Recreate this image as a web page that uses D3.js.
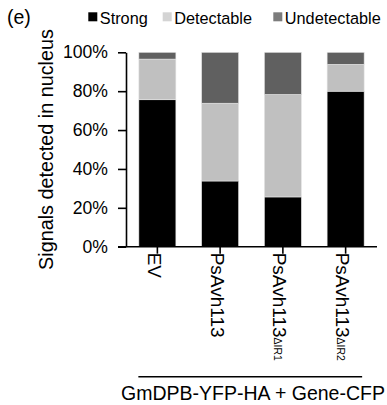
<!DOCTYPE html>
<html>
<head>
<meta charset="utf-8">
<script src="https://cdn.jsdelivr.net/npm/d3@7"></script>
<style>
  body { margin: 0; background: #fff; }
  text { font-family: "Liberation Sans", Arial, sans-serif; fill: #000; }
</style>
</head>
<body>
<div id="chart"></div>
<script>
// data (percent of cells)
var groups = ["EV", "PsAvh113", "PsAvh113_1", "PsAvh113_2"];
var groupNames = ["EV", "PsAvh113", "PsAvh113", "PsAvh113"];
var groupSubs = ["", "", "\u0394IR1", "\u0394IR2"];
var strong = [75.6, 33.8, 25.6, 80.0];
var detectable = [20.9, 40.0, 52.7, 13.8];
var undetectable = [3.5, 26.2, 21.7, 6.2];
var seriesNames = ["Strong", "Detectable", "Undetectable"];
var seriesColors = ["#000000", "#c0c0c0", "#606060"];
var legendColors = ["#000000", "#d4d4d4", "#7c7c7c"];
var yTicks = [0, 20, 40, 60, 80, 100];

var svgWidth = 387;
var svgHeight = 405;

var margin = { top: 52.3, right: 10, bottom: 158.3, left: 126 };
var width = 251;
var height = svgHeight - margin.top - margin.bottom;

var svg = d3.select("#chart")
  .append("svg")
  .attr("width", svgWidth)
  .attr("height", svgHeight);

var chartGroup = svg.append("g")
  .attr("transform", `translate(${margin.left}, ${margin.top})`);

// build stacked table
var table = groups.map(function(g, i) {
  return { group: g, Strong: strong[i], Detectable: detectable[i], Undetectable: undetectable[i] };
});
var stacked = d3.stack().keys(seriesNames)(table);

var xBand = d3.scaleBand()
  .domain(groups)
  .range([0, width])
  .paddingInner(0.41)
  .paddingOuter(0.205);

var yLinearScale = d3.scaleLinear()
  .domain([0, 100])
  .range([height, 0]);

// bars
chartGroup.selectAll("g.layer")
  .data(stacked)
  .enter()
  .append("g")
  .attr("class", "layer")
  .attr("fill", (d, i) => seriesColors[i])
  .selectAll("rect")
  .data(d => d)
  .enter()
  .append("rect")
  .attr("x", d => xBand(d.data.group))
  .attr("y", d => yLinearScale(d[1]))
  .attr("width", xBand.bandwidth())
  .attr("height", d => yLinearScale(d[0]) - yLinearScale(d[1]))
  .attr("stroke", "#e6e6e6")
  .attr("stroke-width", 0.6);

// y axis
var leftAxis = d3.axisLeft(yLinearScale)
  .tickValues(yTicks)
  .tickFormat(d => d + "%")
  .tickSize(8)
  .tickPadding(10)
  .tickSizeOuter(0);

var yAxis = chartGroup.append("g")
  .call(leftAxis);
yAxis.select(".domain").attr("stroke", "#000").attr("stroke-width", 1.6);
yAxis.selectAll(".tick line").attr("stroke", "#000").attr("stroke-width", 1.6);
yAxis.selectAll(".tick text")
  .style("font-size", "17.6px")
  .style("font-family", "'Liberation Sans', Arial, sans-serif");

// x axis
var bottomAxis = d3.axisBottom(xBand)
  .tickSize(7)
  .tickSizeOuter(0)
  .tickFormat("");

var xAxis = chartGroup.append("g")
  .attr("transform", `translate(0, ${height})`)
  .call(bottomAxis);
xAxis.select(".domain")
  .attr("stroke", "#000")
  .attr("stroke-width", 1.6)
  .attr("d", `M-8,0H${width}`);
xAxis.selectAll(".tick line").attr("stroke", "#000").attr("stroke-width", 1.6);

// rotated category labels with subscripts
groups.forEach(function(g, i) {
  var cx = xBand(g) + xBand.bandwidth() / 2 - 9.5;
  var t = chartGroup.append("text")
    .attr("transform", `translate(${cx}, ${height + 6}) rotate(90)`)
    .style("font-size", "19px");
  t.append("tspan").text(groupNames[i]);
  if (groupSubs[i]) {
    t.append("tspan")
      .attr("dy", -1)
      .style("font-size", "10.5px")
      .text(groupSubs[i]);
  }
});

// bracket line and group caption
var x0 = xBand(groups[0]);
var x1 = xBand(groups[3]) + xBand.bandwidth();
chartGroup.append("line")
  .attr("x1", x0 - 0.5)
  .attr("x2", x1 - 2)
  .attr("y1", height + 130)
  .attr("y2", height + 130)
  .attr("stroke", "#000")
  .attr("stroke-width", 1.6);

svg.append("text")
  .attr("x", 253)
  .attr("y", 400)
  .attr("text-anchor", "middle")
  .style("font-size", "19.5px")
  .text("GmDPB-YFP-HA + Gene-CFP");

// y title
svg.append("text")
  .attr("transform", "translate(53, 149.5) rotate(-90)")
  .attr("text-anchor", "middle")
  .style("font-size", "19.8px")
  .text("Signals detected in nucleus");

// panel letter
svg.append("text")
  .attr("x", 7)
  .attr("y", 24)
  .style("font-size", "19.5px")
  .text("(e)");

// legend
var legendX = [88.3, 162.7, 273.3];
var legend = svg.append("g");
seriesNames.forEach(function(name, i) {
  legend.append("rect")
    .attr("x", legendX[i])
    .attr("y", 12.3)
    .attr("width", 9)
    .attr("height", 9)
    .attr("fill", legendColors[i]);
  legend.append("text")
    .attr("x", legendX[i] + 11.5)
    .attr("y", 24)
    .style("font-size", "16.3px")
    .text(name);
});
</script>
</body>
</html>
